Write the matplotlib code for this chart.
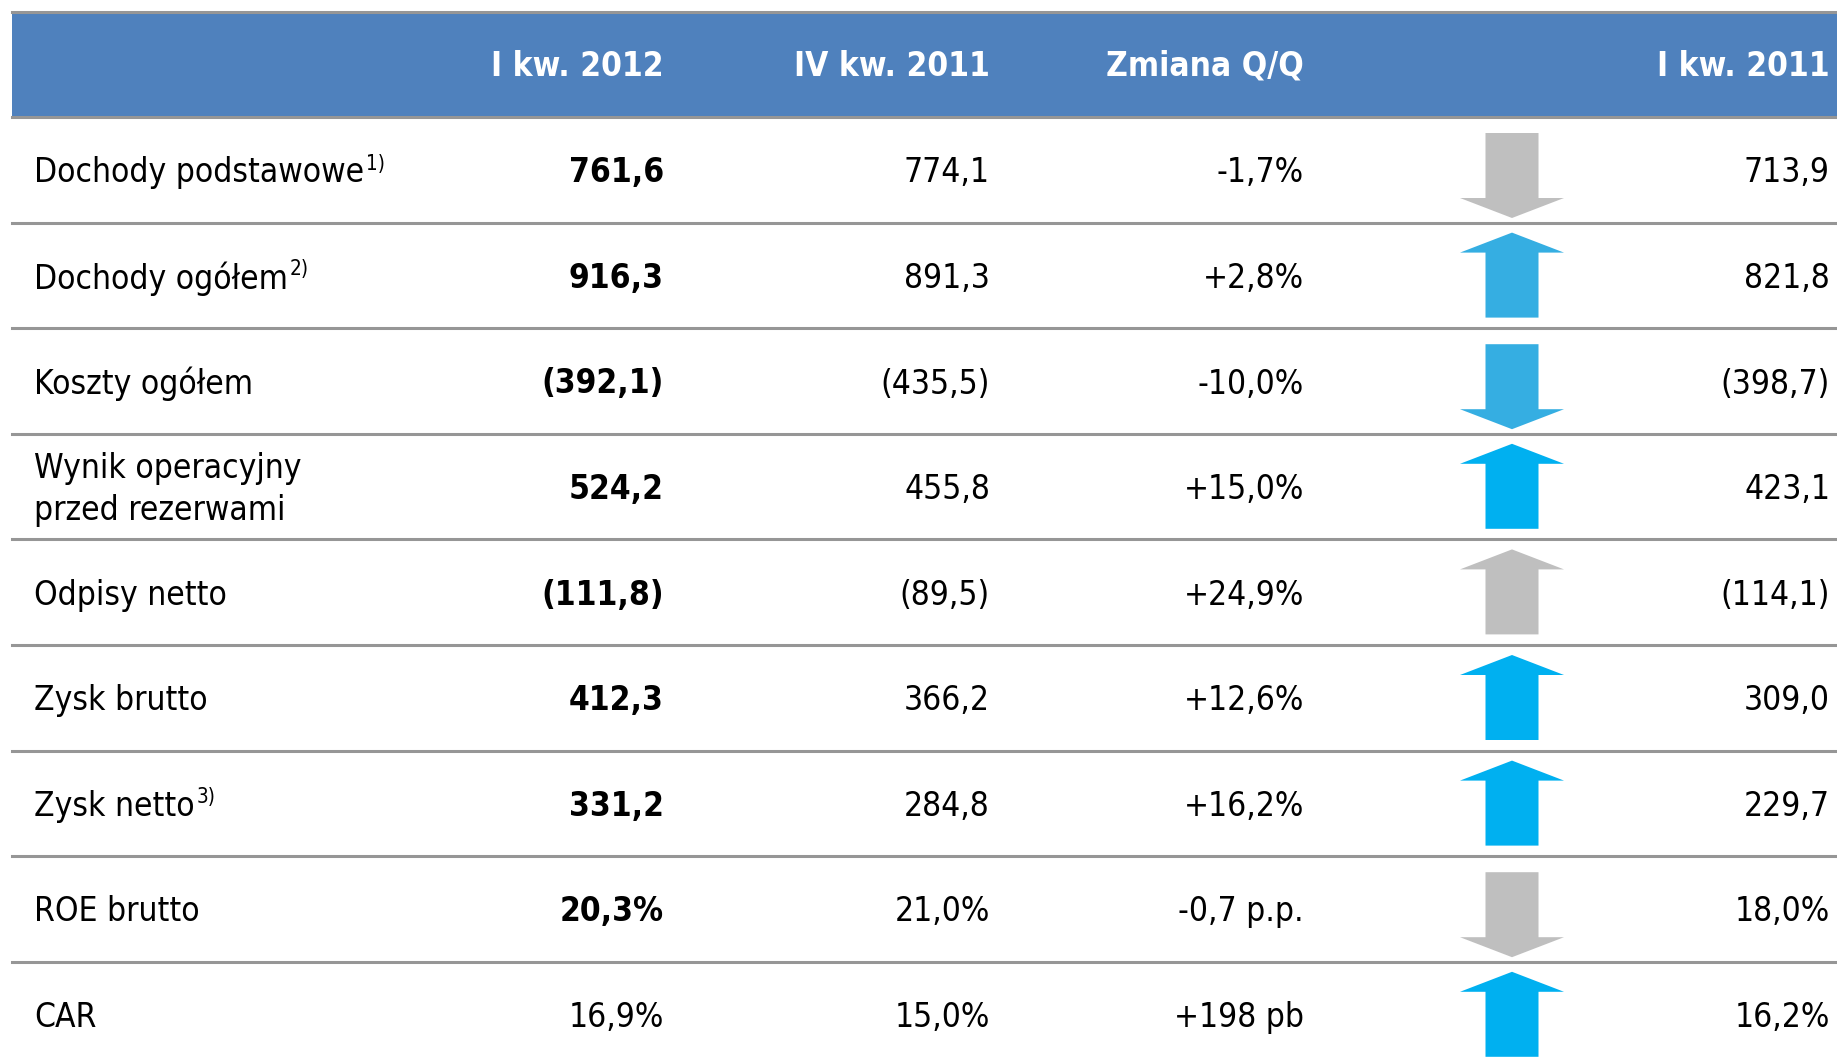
import matplotlib.pyplot as plt
from matplotlib.patches import Polygon, Rectangle

# table content
headers = ["I kw. 2012", "IV kw. 2011", "Zmiana Q/Q", "I kw. 2011"]
labels = ["Dochody podstawowe", "Dochody ogółem", "Koszty ogółem",
          "Wynik operacyjny\nprzed rezerwami", "Odpisy netto", "Zysk brutto",
          "Zysk netto", "ROE brutto", "CAR"]
notes = ["1)", "2)", "", "", "", "", "3)", "", ""]
q1_2012 = ["761,6", "916,3", "(392,1)", "524,2", "(111,8)", "412,3",
           "331,2", "20,3%", "16,9%"]
q1_2012_bold = [True, True, True, True, True, True, True, True, False]
q4_2011 = ["774,1", "891,3", "(435,5)", "455,8", "(89,5)", "366,2",
           "284,8", "21,0%", "15,0%"]
change = ["-1,7%", "+2,8%", "-10,0%", "+15,0%", "+24,9%", "+12,6%",
          "+16,2%", "-0,7 p.p.", "+198 pb"]
q1_2011 = ["713,9", "821,8", "(398,7)", "423,1", "(114,1)", "309,0",
           "229,7", "18,0%", "16,2%"]
direction = ["down", "up", "down", "up", "up", "up", "up", "down", "up"]
arrow_col = ["#BFBFBF", "#35AEE2", "#35AEE2", "#00B0F0", "#BFBFBF",
             "#00B0F0", "#00B0F0", "#BFBFBF", "#00B0F0"]

W, H = 1837, 1062
fig = plt.figure(figsize=(W / 100, H / 100), dpi=100)
ax = fig.add_axes([0, 0, 1, 1])
ax.set_xlim(0, W)
ax.set_ylim(H, 0)
ax.axis("off")

FONT = dict(family="DejaVu Sans", stretch="condensed")
FS = 24
col_x = [664, 990, 1304, 1830]
arrow_x = 1512
line_c = "#969696"

head_top, head_bot = 13, 117
row_h = 105.6
dy = 3  # small downward nudge of row texts

# header
ax.add_patch(Rectangle((12, head_top), W, head_bot - head_top,
                       color="#4F81BD", lw=0))
ax.plot([12, W], [12, 12], color=line_c, lw=2.2)
for x, h in zip(col_x, headers):
    ax.text(x, (head_top + head_bot) / 2 + 1, h, ha="right", va="center",
            color="white", fontsize=FS, fontweight="bold", **FONT)

fig.canvas.draw()
renderer = fig.canvas.get_renderer()

for i in range(len(labels)):
    top = head_bot + i * row_h
    yc = top + row_h / 2 + dy
    ax.plot([12, W], [top, top], color=line_c, lw=2.2, zorder=3)

    t = ax.text(34, yc, labels[i], ha="left", va="center", fontsize=FS,
                linespacing=1.35, **FONT)
    if notes[i]:
        bb = t.get_window_extent(renderer)
        x_end = ax.transData.inverted().transform((bb.x1, bb.y1))[0]
        ax.text(x_end + 2, yc - 9, notes[i], ha="left", va="center",
                fontsize=FS * 0.62, **FONT)

    ax.text(col_x[0], yc, q1_2012[i], ha="right", va="center", fontsize=FS,
            fontweight="bold" if q1_2012_bold[i] else "normal", **FONT)
    ax.text(col_x[1], yc, q4_2011[i], ha="right", va="center", fontsize=FS, **FONT)
    ax.text(col_x[2], yc, change[i], ha="right", va="center", fontsize=FS, **FONT)
    ax.text(col_x[3], yc, q1_2011[i], ha="right", va="center", fontsize=FS, **FONT)

    # arrow
    sw, hw, hl, L = 26.5, 52, 20, 85
    if direction[i] == "up":
        tip = top + 10
        base = tip + L
        pts = [(arrow_x, tip), (arrow_x + hw, tip + hl), (arrow_x + sw, tip + hl),
               (arrow_x + sw, base), (arrow_x - sw, base), (arrow_x - sw, tip + hl),
               (arrow_x - hw, tip + hl)]
    else:
        tip = top + 101
        start = tip - L
        pts = [(arrow_x, tip), (arrow_x + hw, tip - hl), (arrow_x + sw, tip - hl),
               (arrow_x + sw, start), (arrow_x - sw, start), (arrow_x - sw, tip - hl),
               (arrow_x - hw, tip - hl)]
    ax.add_patch(Polygon(pts, closed=True, color=arrow_col[i], lw=0))

plt.savefig("out.png", dpi=100)
